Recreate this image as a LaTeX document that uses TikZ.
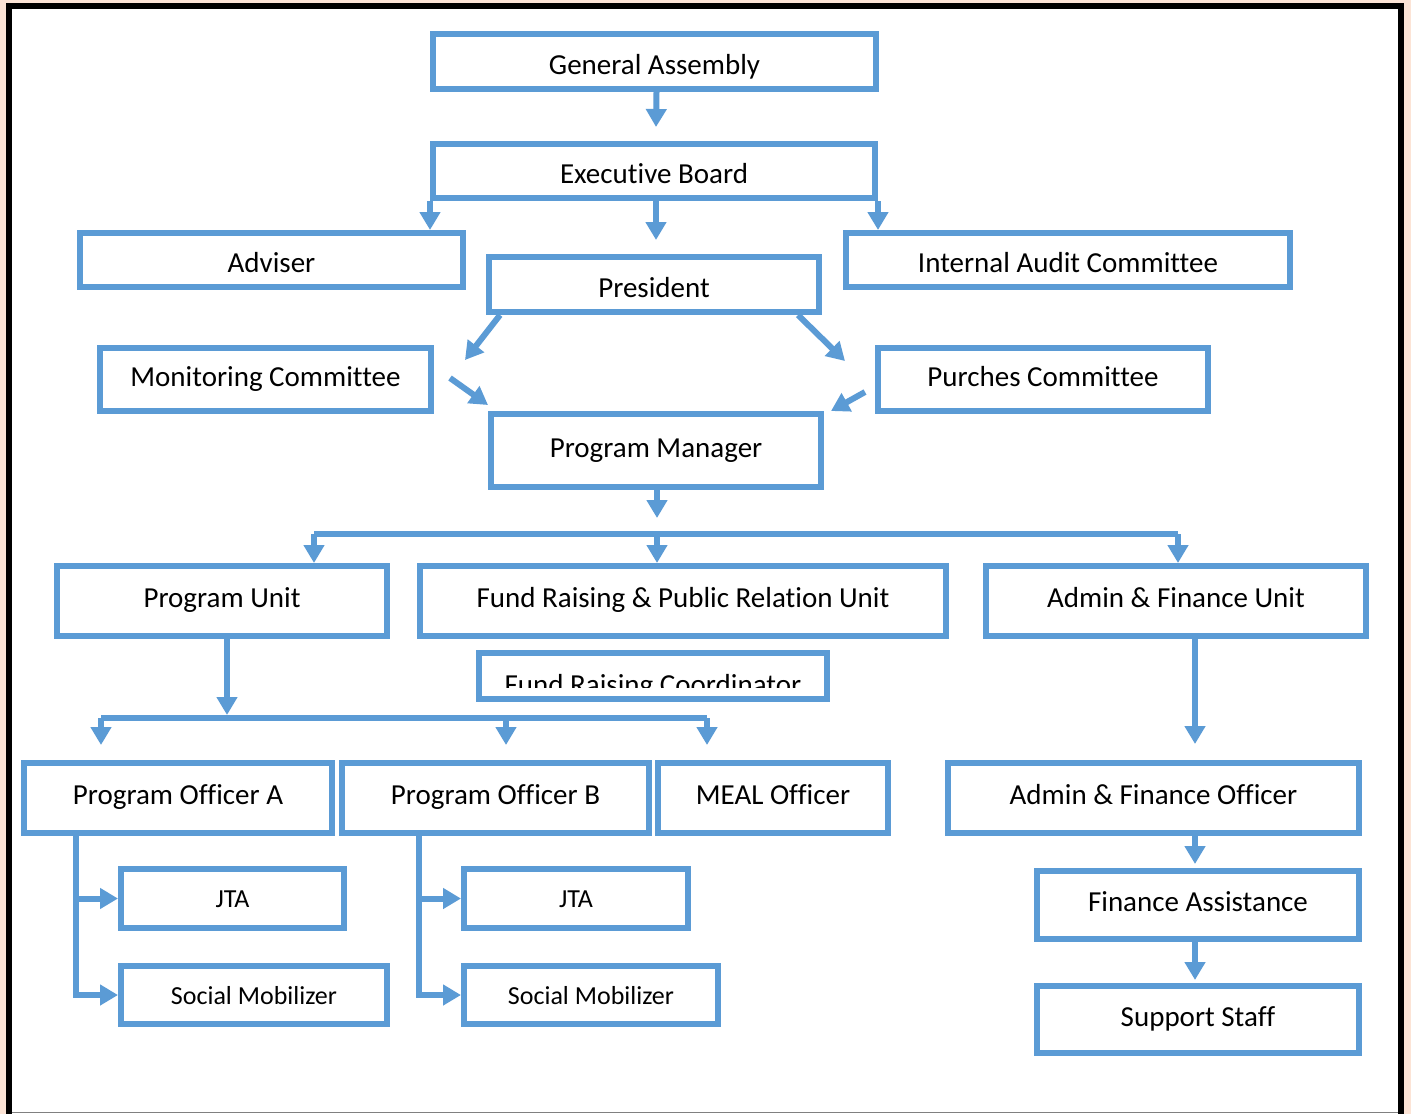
\documentclass[tikz,border=0pt]{standalone}
\usepackage{fontspec}
\setmainfont{Carlito}[Ligatures=CommonOff]
\usetikzlibrary{arrows.meta,calc}
\definecolor{boxblue}{HTML}{5B9BD5}
\definecolor{peach}{HTML}{FCE4D6}

\begin{document}
\begin{tikzpicture}[x=1pt,y=-1pt,
  unit/.style={draw=boxblue, line width=6pt, inner sep=0pt, fill=white,
    text height=19pt, text depth=6pt, font=\fontsize{29}{34}\selectfont},
  topunit/.style={unit, text height=25pt, text depth=0pt},
  subunit/.style={unit, text height=20pt, text depth=2pt, font=\fontsize{26}{31}\selectfont},
  wire/.style={draw=boxblue, line width=6pt},
  link/.style={wire, -{Triangle[length=18pt,width=20pt]}}]
  \useasboundingbox (0,0) rectangle (1411,1114);
  % frame
  \fill[peach] (0,0) rectangle (1411,1114);
  \fill[white] (6,3) rectangle (1404,1114);
  \fill[black] (6,3) rectangle (12,1114);
  \fill[black] (6,3) rectangle (1404,9);
  \fill[black] (1398,3) rectangle (1404,1114);
  \draw[gray, line width=1pt] (12,1112) -- (1398,1112);

  % top of the chart
  \node[topunit, minimum width=443pt, minimum height=55pt] (ga) at (654.5,61.5) {General Assembly};
  \node[topunit, minimum width=442pt, minimum height=54pt] (eb) at (654,171) {Executive Board};
  \node[topunit, minimum width=383pt, minimum height=54pt] (adv) at (271.5,260) {Adviser};
  \node[topunit, minimum width=330pt, minimum height=55pt] (pres) at (654,284.5) {President};
  \node[topunit, minimum width=444pt, minimum height=54pt] (iac) at (1068,260) {Internal Audit Committee};
  \node[unit, minimum width=331pt, minimum height=63pt] (mon) at (265.5,379.5) {Monitoring Committee};
  \node[unit, minimum width=330pt, minimum height=63pt] (pur) at (1043,379.5) {Purches Committee};
  \node[unit, minimum width=330pt, minimum height=73pt] (pm) at (656,450.5) {Program Manager};

  % units
  \node[unit, minimum width=330pt, minimum height=70pt] (pu) at (222,601) {Program Unit};
  \node[unit, minimum width=526pt, minimum height=70pt] (fru) at (683,601) {Fund Raising \& Public Relation Unit};
  \node[unit, minimum width=380pt, minimum height=70pt] (afu) at (1176,601) {Admin \& Finance Unit};
  \node[unit, minimum width=348pt, minimum height=46pt] (frc) at (653,676) {};
  \begin{scope}
    \clip (479,653) rectangle (827,687);
    \node[anchor=base, inner sep=0pt, font=\fontsize{29}{34}\selectfont] (frctext) at (653,694) {Fund Raising Coordinator};
  \end{scope}

  % officers
  \node[unit, minimum width=308pt, minimum height=70pt] (poa) at (178,798) {Program Officer A};
  \node[unit, minimum width=307pt, minimum height=70pt] (pob) at (495.5,798) {Program Officer B};
  \node[unit, minimum width=230pt, minimum height=70pt] (meal) at (773,798) {MEAL Officer};
  \node[unit, minimum width=411pt, minimum height=70pt] (afo) at (1153.5,798) {Admin \& Finance Officer};
  \node[subunit, minimum width=223pt, minimum height=59pt] (jtaa) at (232.5,898.5) {JTA};
  \node[subunit, minimum width=266pt, minimum height=58pt] (sma) at (254,995) {Social Mobilizer};
  \node[subunit, minimum width=224pt, minimum height=59pt] (jtab) at (576,898.5) {JTA};
  \node[subunit, minimum width=254pt, minimum height=58pt] (smb) at (591,995) {Social Mobilizer};
  \node[unit, minimum width=322pt, minimum height=68pt] (fa) at (1198,905) {Finance Assistance};
  \node[unit, minimum width=322pt, minimum height=67pt] (ss) at (1198,1019.5) {Support Staff};

  % connectors
  \coordinate (montip) at (465,360);
  \coordinate (purtip) at (845,361);
  \coordinate (monout) at (450,378);
  \coordinate (purout) at (865,392);
  \coordinate (busL) at (314,534);
  \coordinate (busM) at (657,534);
  \coordinate (busR) at (1178,534);
  \coordinate (bus2) at (227,718);
  \coordinate (bus2L) at (101,718);
  \coordinate (bus2M) at (506,718);
  \coordinate (bus2R) at (707,718);
  \coordinate (afline) at (1195,0);
  \coordinate (spineA) at (76,0);
  \coordinate (spineB) at (419,0);

  \draw[link] ([xshift=2pt]ga.south) -- ([xshift=2pt,yshift=14pt]eb.north);
  \draw[link] (eb.south west) -- (eb.south west |- adv.north);
  \draw[link] (eb.south east) -- (eb.south east |- iac.north);
  \draw[link] ([xshift=2pt]eb.south) -- ([xshift=2pt,yshift=14pt]pres.north);
  \draw[link] ([xshift=14pt]pres.south west) -- (montip);
  \draw[link] ([xshift=-24pt]pres.south east) -- (purtip);
  \draw[link] (monout) -- ([yshift=6pt]pm.north west);
  \draw[link] (purout) -- ([xshift=7pt]pm.north east);
  \draw[link] (pm.south -| busM) -- ($(busM)+(0,-16)$);

  \draw[wire] (busL) -- (busR);
  \draw[link] (busL) -- (busL |- pu.north);
  \draw[link] (busM) -- (busM |- fru.north);
  \draw[link] (busR) -- (busR |- afu.north);

  \draw[link] (pu.south -| bus2) -- ($(bus2)+(0,-3)$);
  \draw[wire] (bus2L) -- (bus2R);
  \draw[link] (bus2L) -- ($(bus2L |- poa.north)+(0,-15)$);
  \draw[link] (bus2M) -- ($(bus2M |- pob.north)+(0,-15)$);
  \draw[link] (bus2R) -- ($(bus2R |- meal.north)+(0,-15)$);

  \draw[link] (afline |- afu.south) -- ($(afline |- afo.north)+(0,-16)$);
  \draw[link] (afline |- afo.south) -- ($(afline |- fa.north)+(0,-4)$);
  \draw[link] (afline |- fa.south) -- ($(afline |- ss.north)+(0,-3)$);

  \draw[link] (spineA |- poa.south) |- (sma.west);
  \draw[link] (spineA |- jtaa.west) -- (jtaa.west);
  \draw[link] (spineB |- pob.south) |- (smb.west);
  \draw[link] (spineB |- jtab.west) -- (jtab.west);
\end{tikzpicture}
\end{document}
